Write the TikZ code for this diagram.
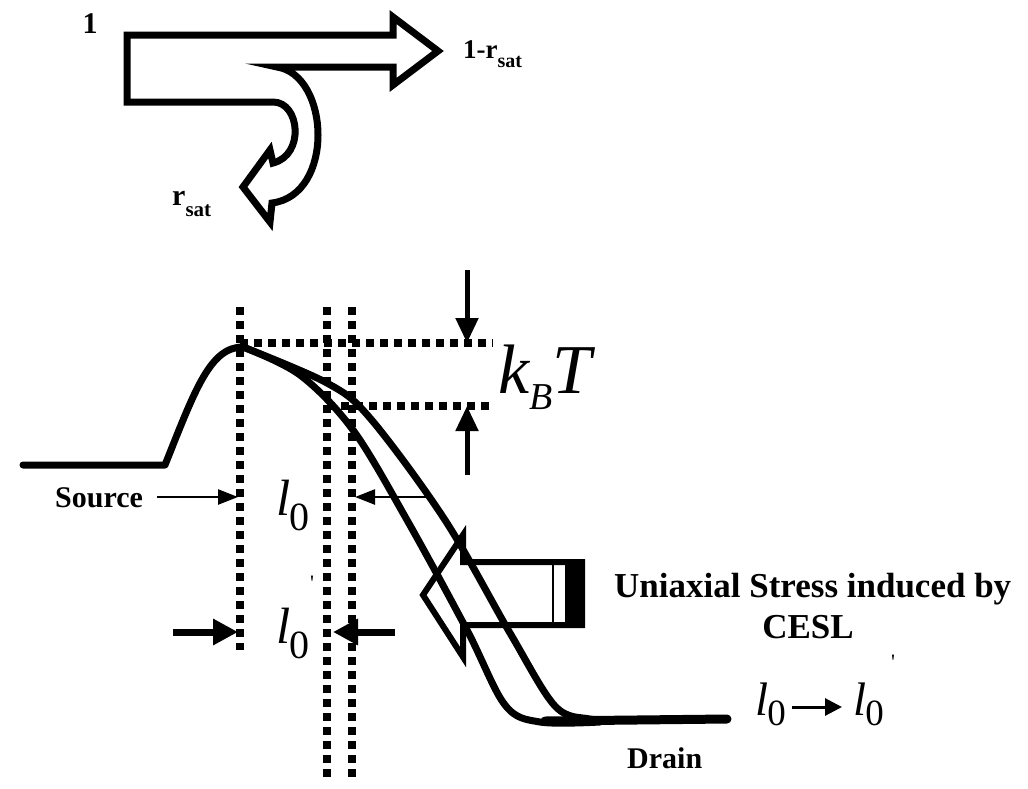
\documentclass[tikz,border=0pt]{standalone}
\usepackage{fontspec}
\setmainfont{Liberation Serif}
\usetikzlibrary{arrows.meta}
\begin{document}
\begin{tikzpicture}[x=1pt,y=-1pt,
  outline/.style={line width=7pt, line join=miter},
  curve/.style={line width=7pt, line cap=round, line join=round},
  dots/.style={line width=8pt, dash pattern=on 8pt off 6pt},
  lbl/.style={inner sep=0pt, font=\bfseries\fontsize{30}{30}\selectfont},
  thinarr/.style={line width=2.5pt, -{Triangle[length=20pt,width=15pt]}},
  thickarr/.style={line width=7pt, -{Triangle[length=25pt,width=25pt]}},
  kbarr/.style={line width=5pt, -{Triangle[length=25pt,width=22pt]}},
  tick/.style={inner sep=0pt, font=\fontsize{22}{22}\selectfont}
]
\useasboundingbox (0,0) rectangle (1028,788);

% ---- split arrow at the top ----
\draw[outline] (393,35) -- (127,35) -- (127,102) -- (273,102)
  .. controls (300,102) and (305,155) .. (273,163)
  -- (270,150) -- (243,187) -- (270,222) -- (272,203)
  .. controls (335,195) and (330,75) .. (277,67)
  -- (393,67) -- (393,85) -- (438,51) -- (393,17) -- cycle;

\node[lbl, anchor=base] (one) at (90,33) {1};
\node[lbl, anchor=base west, font=\bfseries\fontsize{27}{27}\selectfont] (rout) at (463,58)
  {1-r\raisebox{-9pt}{\fontsize{20}{20}\selectfont sat}};
\node[lbl, anchor=base west, font=\bfseries\fontsize{30}{30}\selectfont] (rsat) at (172,205)
  {r\raisebox{-11pt}{\fontsize{21}{21}\selectfont sat}};

% ---- dotted guide lines ----
\draw[dots] (240,307) -- (240,650);
\draw[dots] (327,307) -- (327,780);
\draw[dots] (352,307) -- (352,780);
\draw[dots] (240,343) -- (493,343);
\draw[dots] (327,406) -- (493,406);

% ---- band profiles ----
\draw[curve] (23,465) -- (165,465) .. controls (195,390) and (210,347) .. (243,347);
\draw[curve] plot[smooth, tension=0.55] coordinates
  {(243,347) (300,375) (353,430) (407,520) (467,630) (505,705) (540,722) (600,722)};
\draw[curve] plot[smooth, tension=0.55] coordinates
  {(243,347) (327,383) (370,418) (445,520) (510,633) (555,706) (590,719) (620,720)};
\draw[line width=9pt, line cap=round] (545,721) -- (727,719);

% ---- stress arrow ----
\draw[line width=6pt, line join=miter] (463,562) -- (582,562) -- (582,625) -- (463,625)
  -- (463,657) -- (423,595) -- (463,535) -- cycle;
\fill (565,562) rectangle (582,625);
\draw[line width=2pt] (553,562) -- (553,625);

% ---- kT arrows ----
\draw[kbarr] (467,270) -- (467,343);
\draw[kbarr] (467,475) -- (467,406);
\node[inner sep=0pt, anchor=base west, font=\itshape\fontsize{70}{70}\selectfont] (kbt) at (498,393)
  {k\raisebox{-16pt}{\fontsize{38}{38}\selectfont B}T};

% ---- source / l0 arrows ----
\node[lbl, anchor=base west] (source) at (55,507) {Source};
\draw[thinarr] (157,497) -- (238,497);
\draw[thinarr] (433,497) -- (355,497);
\node[inner sep=0pt, anchor=base west] (lzero) at (276,515)
  {{\itshape\fontsize{51}{51}\selectfont l}\kern-1pt\raisebox{-15pt}{\fontsize{40}{40}\selectfont 0}};
\node[tick] (tickA) at (312,583) {\textquotesingle};
\node[inner sep=0pt, anchor=base west] (lzerop) at (276,643)
  {{\itshape\fontsize{51}{51}\selectfont l}\kern-1pt\raisebox{-15pt}{\fontsize{40}{40}\selectfont 0}};
\draw[thickarr] (173,632) -- (238,632);
\draw[thickarr] (395,632) -- (333,632);

% ---- right side labels ----
\node[lbl, anchor=base west, font=\bfseries\fontsize{35}{35}\selectfont] (stress) at (614,597)
  {Uniaxial Stress induced by};
\node[lbl, anchor=base, font=\bfseries\fontsize{35}{35}\selectfont] (cesl) at (808,638) {CESL};
\node[inner sep=0pt, anchor=base west] (lA) at (755,715)
  {{\itshape\fontsize{47}{47}\selectfont l}\kern-1pt\raisebox{-10pt}{\fontsize{37}{37}\selectfont 0}};
\node[inner sep=0pt, anchor=base west] (lB) at (853,715)
  {{\itshape\fontsize{47}{47}\selectfont l}\kern-1pt\raisebox{-10pt}{\fontsize{37}{37}\selectfont 0}};
\coordinate (arrS) at (792,707);
\coordinate (arrE) at (842,707);
\draw[line width=3pt, -{Triangle[length=17pt,width=17pt]}] (arrS) -- (arrE);
\node[tick] (tickB) at (893,662) {\textquotesingle};
\node[lbl, anchor=base west] (drain) at (627,768) {Drain};
\end{tikzpicture}
\end{document}
